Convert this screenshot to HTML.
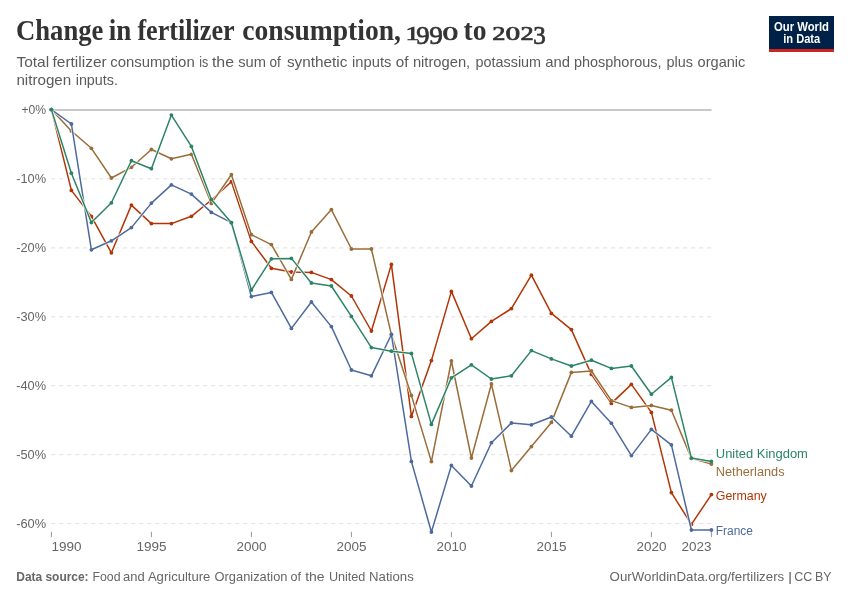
<!DOCTYPE html>
<html><head><meta charset="utf-8"><title>Change in fertilizer consumption</title>
<style>
html,body{margin:0;padding:0;background:#fff;}
body{width:850px;height:600px;overflow:hidden;font-family:"Liberation Sans",sans-serif;}
svg{display:block;will-change:transform}
text{font-family:"Liberation Sans",sans-serif;}
.tick{font-size:13.7px;fill:#666;}
.lab{font-size:12.3px;}
.title{font-family:"Liberation Serif",serif;font-weight:bold;font-size:28.6px;fill:#333;}
.sub{font-size:15px;fill:#5b5b5b;}
.foot{font-size:13px;fill:#666;}
.logo{font-size:12px;font-weight:bold;fill:#fff;}
</style></head><body>
<svg width="850" height="600" viewBox="0 0 850 600">
<rect width="850" height="600" fill="#fff"/>
<text x="16.0" y="40.2" class="title" textLength="87.4" lengthAdjust="spacingAndGlyphs">Change</text>
<text x="108.8" y="40.2" class="title" textLength="22.6" lengthAdjust="spacingAndGlyphs">in</text>
<text x="137.4" y="40.2" class="title" textLength="97.2" lengthAdjust="spacingAndGlyphs">fertilizer</text>
<text x="242.3" y="40.2" class="title" textLength="158.7" lengthAdjust="spacingAndGlyphs">consumption,</text>
<text x="405.5" y="40.2" class="title" style="font-size:19.5px;font-weight:normal;stroke:#333;stroke-width:0.7px" textLength="13.8" lengthAdjust="spacingAndGlyphs">1</text>
<text x="416.2" y="43.800000000000004" class="title" style="font-size:24.5px;font-weight:normal;stroke:#333;stroke-width:0.7px" textLength="13.3" lengthAdjust="spacingAndGlyphs">9</text>
<text x="429.3" y="43.800000000000004" class="title" style="font-size:24.5px;font-weight:normal;stroke:#333;stroke-width:0.7px" textLength="13.6" lengthAdjust="spacingAndGlyphs">9</text>
<text x="442.5" y="40.2" class="title" style="font-size:19.5px;font-weight:normal;stroke:#333;stroke-width:0.7px" textLength="15.7" lengthAdjust="spacingAndGlyphs">0</text>
<text x="463.6" y="40.2" class="title" textLength="23.0" lengthAdjust="spacingAndGlyphs">to</text>
<text x="492.2" y="40.2" class="title" style="font-size:19.5px;font-weight:normal;stroke:#333;stroke-width:0.7px" textLength="13.2" lengthAdjust="spacingAndGlyphs">2</text>
<text x="505.5" y="40.2" class="title" style="font-size:19.5px;font-weight:normal;stroke:#333;stroke-width:0.7px" textLength="14.7" lengthAdjust="spacingAndGlyphs">0</text>
<text x="520.4" y="40.2" class="title" style="font-size:19.5px;font-weight:normal;stroke:#333;stroke-width:0.7px" textLength="13.2" lengthAdjust="spacingAndGlyphs">2</text>
<text x="533.3" y="43.6" class="title" style="font-size:24.5px;font-weight:normal;stroke:#333;stroke-width:0.7px" textLength="12.5" lengthAdjust="spacingAndGlyphs">3</text>
<text x="16.4" y="66.6" class="sub" textLength="32.8" lengthAdjust="spacingAndGlyphs">Total</text>
<text x="52.5" y="66.6" class="sub" textLength="54.2" lengthAdjust="spacingAndGlyphs">fertilizer</text>
<text x="110.2" y="66.6" class="sub" textLength="84.5" lengthAdjust="spacingAndGlyphs">consumption</text>
<text x="199.3" y="66.6" class="sub" textLength="9.0" lengthAdjust="spacingAndGlyphs">is</text>
<text x="211.9" y="66.6" class="sub" textLength="22.1" lengthAdjust="spacingAndGlyphs">the</text>
<text x="238.2" y="66.6" class="sub" textLength="27.8" lengthAdjust="spacingAndGlyphs">sum</text>
<text x="269.5" y="66.6" class="sub" textLength="11.3" lengthAdjust="spacingAndGlyphs">of</text>
<text x="286.9" y="66.6" class="sub" textLength="60.4" lengthAdjust="spacingAndGlyphs">synthetic</text>
<text x="352.1" y="66.6" class="sub" textLength="39.3" lengthAdjust="spacingAndGlyphs">inputs</text>
<text x="395.8" y="66.6" class="sub" textLength="12.7" lengthAdjust="spacingAndGlyphs">of</text>
<text x="412.9" y="66.6" class="sub" textLength="57.3" lengthAdjust="spacingAndGlyphs">nitrogen,</text>
<text x="475.6" y="66.6" class="sub" textLength="65.5" lengthAdjust="spacingAndGlyphs">potassium</text>
<text x="545.3" y="66.6" class="sub" textLength="24.8" lengthAdjust="spacingAndGlyphs">and</text>
<text x="574.0" y="66.6" class="sub" textLength="87.5" lengthAdjust="spacingAndGlyphs">phosphorous,</text>
<text x="666.5" y="66.6" class="sub" textLength="26.5" lengthAdjust="spacingAndGlyphs">plus</text>
<text x="697.6" y="66.6" class="sub" textLength="47.8" lengthAdjust="spacingAndGlyphs">organic</text>
<text x="16.4" y="84.6" class="sub" textLength="54.8" lengthAdjust="spacingAndGlyphs">nitrogen</text>
<text x="75.7" y="84.6" class="sub" textLength="42.3" lengthAdjust="spacingAndGlyphs">inputs.</text>
<rect x="769" y="16" width="65" height="36" fill="#002147"/>
<rect x="769" y="49" width="65" height="3" fill="#ce261e"/>
<text x="801.5" y="30.8" class="logo" text-anchor="middle" textLength="55" lengthAdjust="spacingAndGlyphs">Our World</text>
<text x="801.7" y="42.9" class="logo" text-anchor="middle" textLength="37" lengthAdjust="spacingAndGlyphs">in Data</text>
<line x1="51" y1="110.0" x2="711.5" y2="110.0" stroke="#c8c8c8" stroke-width="2"/>
<line x1="51" y1="178.9" x2="711.5" y2="178.9" stroke="#e0e0e0" stroke-width="1" stroke-dasharray="4.2,3.8"/>
<line x1="51" y1="247.9" x2="711.5" y2="247.9" stroke="#e0e0e0" stroke-width="1" stroke-dasharray="4.2,3.8"/>
<line x1="51" y1="316.8" x2="711.5" y2="316.8" stroke="#e0e0e0" stroke-width="1" stroke-dasharray="4.2,3.8"/>
<line x1="51" y1="385.7" x2="711.5" y2="385.7" stroke="#e0e0e0" stroke-width="1" stroke-dasharray="4.2,3.8"/>
<line x1="51" y1="454.7" x2="711.5" y2="454.7" stroke="#e0e0e0" stroke-width="1" stroke-dasharray="4.2,3.8"/>
<line x1="51" y1="523.6" x2="711.5" y2="523.6" stroke="#e0e0e0" stroke-width="1" stroke-dasharray="4.2,3.8"/>
<text x="21.4" y="114.4" class="tick" textLength="24.7" lengthAdjust="spacingAndGlyphs">+0%</text>
<text x="16.2" y="183.3" class="tick" textLength="29.9" lengthAdjust="spacingAndGlyphs">-10%</text>
<text x="16.2" y="252.3" class="tick" textLength="29.9" lengthAdjust="spacingAndGlyphs">-20%</text>
<text x="16.2" y="321.2" class="tick" textLength="29.9" lengthAdjust="spacingAndGlyphs">-30%</text>
<text x="16.2" y="390.1" class="tick" textLength="29.9" lengthAdjust="spacingAndGlyphs">-40%</text>
<text x="16.2" y="459.1" class="tick" textLength="29.9" lengthAdjust="spacingAndGlyphs">-50%</text>
<text x="16.2" y="528.0" class="tick" textLength="29.9" lengthAdjust="spacingAndGlyphs">-60%</text>
<line x1="51.4" y1="531.8" x2="51.4" y2="537.2" stroke="#999" stroke-width="1"/>
<text x="51.6" y="550.7" class="tick" textLength="30" lengthAdjust="spacingAndGlyphs">1990</text>
<line x1="151.4" y1="531.8" x2="151.4" y2="537.2" stroke="#999" stroke-width="1"/>
<text x="136.4" y="550.7" class="tick" textLength="30" lengthAdjust="spacingAndGlyphs">1995</text>
<line x1="251.4" y1="531.8" x2="251.4" y2="537.2" stroke="#999" stroke-width="1"/>
<text x="236.4" y="550.7" class="tick" textLength="30" lengthAdjust="spacingAndGlyphs">2000</text>
<line x1="351.4" y1="531.8" x2="351.4" y2="537.2" stroke="#999" stroke-width="1"/>
<text x="336.4" y="550.7" class="tick" textLength="30" lengthAdjust="spacingAndGlyphs">2005</text>
<line x1="451.4" y1="531.8" x2="451.4" y2="537.2" stroke="#999" stroke-width="1"/>
<text x="436.4" y="550.7" class="tick" textLength="30" lengthAdjust="spacingAndGlyphs">2010</text>
<line x1="551.4" y1="531.8" x2="551.4" y2="537.2" stroke="#999" stroke-width="1"/>
<text x="536.4" y="550.7" class="tick" textLength="30" lengthAdjust="spacingAndGlyphs">2015</text>
<line x1="651.4" y1="531.8" x2="651.4" y2="537.2" stroke="#999" stroke-width="1"/>
<text x="636.4" y="550.7" class="tick" textLength="30" lengthAdjust="spacingAndGlyphs">2020</text>
<line x1="711.4" y1="531.8" x2="711.4" y2="537.2" stroke="#999" stroke-width="1"/>
<text x="681.4" y="550.7" class="tick" textLength="30" lengthAdjust="spacingAndGlyphs">2023</text>
<path d="M51.4,109.6 L71.4,190.4 L91.4,216.4 L111.4,252.8 L131.4,205.1 L151.4,223.6 L171.4,223.6 L191.4,216.3 L211.4,200.0 L231.4,181.7 L251.4,241.4 L271.4,268.3 L291.4,272.0 L311.4,272.4 L331.4,279.6 L351.4,296.0 L371.4,331.0 L391.4,264.4 L411.4,416.4 L431.4,360.6 L451.4,291.4 L471.4,338.7 L491.4,321.4 L511.4,308.6 L531.4,275.2 L551.4,313.4 L571.4,329.6 L591.4,374.4 L611.4,403.4 L631.4,384.4 L651.4,412.4 L671.4,492.6 L691.4,524.4 L711.4,494.6" fill="none" stroke="#fff" stroke-width="3" stroke-linejoin="round" stroke-linecap="round" opacity="0.85"/>
<path d="M51.4,109.6 L71.4,190.4 L91.4,216.4 L111.4,252.8 L131.4,205.1 L151.4,223.6 L171.4,223.6 L191.4,216.3 L211.4,200.0 L231.4,181.7 L251.4,241.4 L271.4,268.3 L291.4,272.0 L311.4,272.4 L331.4,279.6 L351.4,296.0 L371.4,331.0 L391.4,264.4 L411.4,416.4 L431.4,360.6 L451.4,291.4 L471.4,338.7 L491.4,321.4 L511.4,308.6 L531.4,275.2 L551.4,313.4 L571.4,329.6 L591.4,374.4 L611.4,403.4 L631.4,384.4 L651.4,412.4 L671.4,492.6 L691.4,524.4 L711.4,494.6" fill="none" stroke="#b13507" stroke-width="1.5" stroke-linejoin="round" stroke-linecap="round"/>
<circle cx="51.4" cy="109.6" r="1.9" fill="#b13507"/>
<circle cx="71.4" cy="190.4" r="1.9" fill="#b13507"/>
<circle cx="91.4" cy="216.4" r="1.9" fill="#b13507"/>
<circle cx="111.4" cy="252.8" r="1.9" fill="#b13507"/>
<circle cx="131.4" cy="205.1" r="1.9" fill="#b13507"/>
<circle cx="151.4" cy="223.6" r="1.9" fill="#b13507"/>
<circle cx="171.4" cy="223.6" r="1.9" fill="#b13507"/>
<circle cx="191.4" cy="216.3" r="1.9" fill="#b13507"/>
<circle cx="211.4" cy="200.0" r="1.9" fill="#b13507"/>
<circle cx="231.4" cy="181.7" r="1.9" fill="#b13507"/>
<circle cx="251.4" cy="241.4" r="1.9" fill="#b13507"/>
<circle cx="271.4" cy="268.3" r="1.9" fill="#b13507"/>
<circle cx="291.4" cy="272.0" r="1.9" fill="#b13507"/>
<circle cx="311.4" cy="272.4" r="1.9" fill="#b13507"/>
<circle cx="331.4" cy="279.6" r="1.9" fill="#b13507"/>
<circle cx="351.4" cy="296.0" r="1.9" fill="#b13507"/>
<circle cx="371.4" cy="331.0" r="1.9" fill="#b13507"/>
<circle cx="391.4" cy="264.4" r="1.9" fill="#b13507"/>
<circle cx="411.4" cy="416.4" r="1.9" fill="#b13507"/>
<circle cx="431.4" cy="360.6" r="1.9" fill="#b13507"/>
<circle cx="451.4" cy="291.4" r="1.9" fill="#b13507"/>
<circle cx="471.4" cy="338.7" r="1.9" fill="#b13507"/>
<circle cx="491.4" cy="321.4" r="1.9" fill="#b13507"/>
<circle cx="511.4" cy="308.6" r="1.9" fill="#b13507"/>
<circle cx="531.4" cy="275.2" r="1.9" fill="#b13507"/>
<circle cx="551.4" cy="313.4" r="1.9" fill="#b13507"/>
<circle cx="571.4" cy="329.6" r="1.9" fill="#b13507"/>
<circle cx="591.4" cy="374.4" r="1.9" fill="#b13507"/>
<circle cx="611.4" cy="403.4" r="1.9" fill="#b13507"/>
<circle cx="631.4" cy="384.4" r="1.9" fill="#b13507"/>
<circle cx="651.4" cy="412.4" r="1.9" fill="#b13507"/>
<circle cx="671.4" cy="492.6" r="1.9" fill="#b13507"/>
<circle cx="691.4" cy="524.4" r="1.9" fill="#b13507"/>
<circle cx="711.4" cy="494.6" r="1.9" fill="#b13507"/>
<path d="M51.4,109.6 L71.4,131.0 L91.4,148.3 L111.4,178.0 L131.4,167.3 L151.4,149.5 L171.4,158.8 L191.4,154.3 L211.4,203.4 L231.4,174.7 L251.4,234.7 L271.4,244.6 L291.4,279.4 L311.4,232.0 L331.4,209.6 L351.4,249.0 L371.4,249.0 L391.4,334.6 L411.4,395.4 L431.4,461.6 L451.4,361.0 L471.4,458.0 L491.4,384.0 L511.4,470.6 L531.4,446.6 L551.4,422.4 L571.4,372.4 L591.4,371.0 L611.4,400.6 L631.4,407.4 L651.4,405.4 L671.4,410.2 L691.4,458.4 L711.4,464.0" fill="none" stroke="#fff" stroke-width="3" stroke-linejoin="round" stroke-linecap="round" opacity="0.85"/>
<path d="M51.4,109.6 L71.4,131.0 L91.4,148.3 L111.4,178.0 L131.4,167.3 L151.4,149.5 L171.4,158.8 L191.4,154.3 L211.4,203.4 L231.4,174.7 L251.4,234.7 L271.4,244.6 L291.4,279.4 L311.4,232.0 L331.4,209.6 L351.4,249.0 L371.4,249.0 L391.4,334.6 L411.4,395.4 L431.4,461.6 L451.4,361.0 L471.4,458.0 L491.4,384.0 L511.4,470.6 L531.4,446.6 L551.4,422.4 L571.4,372.4 L591.4,371.0 L611.4,400.6 L631.4,407.4 L651.4,405.4 L671.4,410.2 L691.4,458.4 L711.4,464.0" fill="none" stroke="#996d39" stroke-width="1.5" stroke-linejoin="round" stroke-linecap="round"/>
<circle cx="51.4" cy="109.6" r="1.9" fill="#996d39"/>
<circle cx="71.4" cy="131.0" r="1.9" fill="#996d39"/>
<circle cx="91.4" cy="148.3" r="1.9" fill="#996d39"/>
<circle cx="111.4" cy="178.0" r="1.9" fill="#996d39"/>
<circle cx="131.4" cy="167.3" r="1.9" fill="#996d39"/>
<circle cx="151.4" cy="149.5" r="1.9" fill="#996d39"/>
<circle cx="171.4" cy="158.8" r="1.9" fill="#996d39"/>
<circle cx="191.4" cy="154.3" r="1.9" fill="#996d39"/>
<circle cx="211.4" cy="203.4" r="1.9" fill="#996d39"/>
<circle cx="231.4" cy="174.7" r="1.9" fill="#996d39"/>
<circle cx="251.4" cy="234.7" r="1.9" fill="#996d39"/>
<circle cx="271.4" cy="244.6" r="1.9" fill="#996d39"/>
<circle cx="291.4" cy="279.4" r="1.9" fill="#996d39"/>
<circle cx="311.4" cy="232.0" r="1.9" fill="#996d39"/>
<circle cx="331.4" cy="209.6" r="1.9" fill="#996d39"/>
<circle cx="351.4" cy="249.0" r="1.9" fill="#996d39"/>
<circle cx="371.4" cy="249.0" r="1.9" fill="#996d39"/>
<circle cx="391.4" cy="334.6" r="1.9" fill="#996d39"/>
<circle cx="411.4" cy="395.4" r="1.9" fill="#996d39"/>
<circle cx="431.4" cy="461.6" r="1.9" fill="#996d39"/>
<circle cx="451.4" cy="361.0" r="1.9" fill="#996d39"/>
<circle cx="471.4" cy="458.0" r="1.9" fill="#996d39"/>
<circle cx="491.4" cy="384.0" r="1.9" fill="#996d39"/>
<circle cx="511.4" cy="470.6" r="1.9" fill="#996d39"/>
<circle cx="531.4" cy="446.6" r="1.9" fill="#996d39"/>
<circle cx="551.4" cy="422.4" r="1.9" fill="#996d39"/>
<circle cx="571.4" cy="372.4" r="1.9" fill="#996d39"/>
<circle cx="591.4" cy="371.0" r="1.9" fill="#996d39"/>
<circle cx="611.4" cy="400.6" r="1.9" fill="#996d39"/>
<circle cx="631.4" cy="407.4" r="1.9" fill="#996d39"/>
<circle cx="651.4" cy="405.4" r="1.9" fill="#996d39"/>
<circle cx="671.4" cy="410.2" r="1.9" fill="#996d39"/>
<circle cx="691.4" cy="458.4" r="1.9" fill="#996d39"/>
<circle cx="711.4" cy="464.0" r="1.9" fill="#996d39"/>
<path d="M51.4,109.6 L71.4,124.0 L91.4,249.8 L111.4,240.8 L131.4,227.6 L151.4,203.1 L171.4,184.9 L191.4,194.1 L211.4,212.4 L231.4,222.7 L251.4,296.6 L271.4,292.4 L291.4,328.4 L311.4,302.0 L331.4,326.6 L351.4,370.0 L371.4,375.8 L391.4,334.5 L411.4,461.4 L431.4,532.0 L451.4,465.4 L471.4,486.0 L491.4,442.7 L511.4,423.0 L531.4,424.8 L551.4,417.0 L571.4,436.2 L591.4,401.4 L611.4,423.2 L631.4,455.6 L651.4,429.4 L671.4,444.8 L691.4,530.0 L711.4,530.0" fill="none" stroke="#fff" stroke-width="3" stroke-linejoin="round" stroke-linecap="round" opacity="0.85"/>
<path d="M51.4,109.6 L71.4,124.0 L91.4,249.8 L111.4,240.8 L131.4,227.6 L151.4,203.1 L171.4,184.9 L191.4,194.1 L211.4,212.4 L231.4,222.7 L251.4,296.6 L271.4,292.4 L291.4,328.4 L311.4,302.0 L331.4,326.6 L351.4,370.0 L371.4,375.8 L391.4,334.5 L411.4,461.4 L431.4,532.0 L451.4,465.4 L471.4,486.0 L491.4,442.7 L511.4,423.0 L531.4,424.8 L551.4,417.0 L571.4,436.2 L591.4,401.4 L611.4,423.2 L631.4,455.6 L651.4,429.4 L671.4,444.8 L691.4,530.0 L711.4,530.0" fill="none" stroke="#4c6a9c" stroke-width="1.5" stroke-linejoin="round" stroke-linecap="round"/>
<circle cx="51.4" cy="109.6" r="1.9" fill="#4c6a9c"/>
<circle cx="71.4" cy="124.0" r="1.9" fill="#4c6a9c"/>
<circle cx="91.4" cy="249.8" r="1.9" fill="#4c6a9c"/>
<circle cx="111.4" cy="240.8" r="1.9" fill="#4c6a9c"/>
<circle cx="131.4" cy="227.6" r="1.9" fill="#4c6a9c"/>
<circle cx="151.4" cy="203.1" r="1.9" fill="#4c6a9c"/>
<circle cx="171.4" cy="184.9" r="1.9" fill="#4c6a9c"/>
<circle cx="191.4" cy="194.1" r="1.9" fill="#4c6a9c"/>
<circle cx="211.4" cy="212.4" r="1.9" fill="#4c6a9c"/>
<circle cx="231.4" cy="222.7" r="1.9" fill="#4c6a9c"/>
<circle cx="251.4" cy="296.6" r="1.9" fill="#4c6a9c"/>
<circle cx="271.4" cy="292.4" r="1.9" fill="#4c6a9c"/>
<circle cx="291.4" cy="328.4" r="1.9" fill="#4c6a9c"/>
<circle cx="311.4" cy="302.0" r="1.9" fill="#4c6a9c"/>
<circle cx="331.4" cy="326.6" r="1.9" fill="#4c6a9c"/>
<circle cx="351.4" cy="370.0" r="1.9" fill="#4c6a9c"/>
<circle cx="371.4" cy="375.8" r="1.9" fill="#4c6a9c"/>
<circle cx="391.4" cy="334.5" r="1.9" fill="#4c6a9c"/>
<circle cx="411.4" cy="461.4" r="1.9" fill="#4c6a9c"/>
<circle cx="431.4" cy="532.0" r="1.9" fill="#4c6a9c"/>
<circle cx="451.4" cy="465.4" r="1.9" fill="#4c6a9c"/>
<circle cx="471.4" cy="486.0" r="1.9" fill="#4c6a9c"/>
<circle cx="491.4" cy="442.7" r="1.9" fill="#4c6a9c"/>
<circle cx="511.4" cy="423.0" r="1.9" fill="#4c6a9c"/>
<circle cx="531.4" cy="424.8" r="1.9" fill="#4c6a9c"/>
<circle cx="551.4" cy="417.0" r="1.9" fill="#4c6a9c"/>
<circle cx="571.4" cy="436.2" r="1.9" fill="#4c6a9c"/>
<circle cx="591.4" cy="401.4" r="1.9" fill="#4c6a9c"/>
<circle cx="611.4" cy="423.2" r="1.9" fill="#4c6a9c"/>
<circle cx="631.4" cy="455.6" r="1.9" fill="#4c6a9c"/>
<circle cx="651.4" cy="429.4" r="1.9" fill="#4c6a9c"/>
<circle cx="671.4" cy="444.8" r="1.9" fill="#4c6a9c"/>
<circle cx="691.4" cy="530.0" r="1.9" fill="#4c6a9c"/>
<circle cx="711.4" cy="530.0" r="1.9" fill="#4c6a9c"/>
<path d="M51.4,109.6 L71.4,173.2 L91.4,222.5 L111.4,202.8 L131.4,160.7 L151.4,168.7 L171.4,115.1 L191.4,146.4 L211.4,199.4 L231.4,222.7 L251.4,290.0 L271.4,258.8 L291.4,258.4 L311.4,283.0 L331.4,286.0 L351.4,316.4 L371.4,347.6 L391.4,351.2 L411.4,353.4 L431.4,424.4 L451.4,377.8 L471.4,364.8 L491.4,379.0 L511.4,375.8 L531.4,350.6 L551.4,358.9 L571.4,366.0 L591.4,360.2 L611.4,368.4 L631.4,366.0 L651.4,394.2 L671.4,377.4 L691.4,458.1 L711.4,461.4" fill="none" stroke="#fff" stroke-width="3" stroke-linejoin="round" stroke-linecap="round" opacity="0.85"/>
<path d="M51.4,109.6 L71.4,173.2 L91.4,222.5 L111.4,202.8 L131.4,160.7 L151.4,168.7 L171.4,115.1 L191.4,146.4 L211.4,199.4 L231.4,222.7 L251.4,290.0 L271.4,258.8 L291.4,258.4 L311.4,283.0 L331.4,286.0 L351.4,316.4 L371.4,347.6 L391.4,351.2 L411.4,353.4 L431.4,424.4 L451.4,377.8 L471.4,364.8 L491.4,379.0 L511.4,375.8 L531.4,350.6 L551.4,358.9 L571.4,366.0 L591.4,360.2 L611.4,368.4 L631.4,366.0 L651.4,394.2 L671.4,377.4 L691.4,458.1 L711.4,461.4" fill="none" stroke="#2c8465" stroke-width="1.5" stroke-linejoin="round" stroke-linecap="round"/>
<circle cx="51.4" cy="109.6" r="1.9" fill="#2c8465"/>
<circle cx="71.4" cy="173.2" r="1.9" fill="#2c8465"/>
<circle cx="91.4" cy="222.5" r="1.9" fill="#2c8465"/>
<circle cx="111.4" cy="202.8" r="1.9" fill="#2c8465"/>
<circle cx="131.4" cy="160.7" r="1.9" fill="#2c8465"/>
<circle cx="151.4" cy="168.7" r="1.9" fill="#2c8465"/>
<circle cx="171.4" cy="115.1" r="1.9" fill="#2c8465"/>
<circle cx="191.4" cy="146.4" r="1.9" fill="#2c8465"/>
<circle cx="211.4" cy="199.4" r="1.9" fill="#2c8465"/>
<circle cx="231.4" cy="222.7" r="1.9" fill="#2c8465"/>
<circle cx="251.4" cy="290.0" r="1.9" fill="#2c8465"/>
<circle cx="271.4" cy="258.8" r="1.9" fill="#2c8465"/>
<circle cx="291.4" cy="258.4" r="1.9" fill="#2c8465"/>
<circle cx="311.4" cy="283.0" r="1.9" fill="#2c8465"/>
<circle cx="331.4" cy="286.0" r="1.9" fill="#2c8465"/>
<circle cx="351.4" cy="316.4" r="1.9" fill="#2c8465"/>
<circle cx="371.4" cy="347.6" r="1.9" fill="#2c8465"/>
<circle cx="391.4" cy="351.2" r="1.9" fill="#2c8465"/>
<circle cx="411.4" cy="353.4" r="1.9" fill="#2c8465"/>
<circle cx="431.4" cy="424.4" r="1.9" fill="#2c8465"/>
<circle cx="451.4" cy="377.8" r="1.9" fill="#2c8465"/>
<circle cx="471.4" cy="364.8" r="1.9" fill="#2c8465"/>
<circle cx="491.4" cy="379.0" r="1.9" fill="#2c8465"/>
<circle cx="511.4" cy="375.8" r="1.9" fill="#2c8465"/>
<circle cx="531.4" cy="350.6" r="1.9" fill="#2c8465"/>
<circle cx="551.4" cy="358.9" r="1.9" fill="#2c8465"/>
<circle cx="571.4" cy="366.0" r="1.9" fill="#2c8465"/>
<circle cx="591.4" cy="360.2" r="1.9" fill="#2c8465"/>
<circle cx="611.4" cy="368.4" r="1.9" fill="#2c8465"/>
<circle cx="631.4" cy="366.0" r="1.9" fill="#2c8465"/>
<circle cx="651.4" cy="394.2" r="1.9" fill="#2c8465"/>
<circle cx="671.4" cy="377.4" r="1.9" fill="#2c8465"/>
<circle cx="691.4" cy="458.1" r="1.9" fill="#2c8465"/>
<circle cx="711.4" cy="461.4" r="1.9" fill="#2c8465"/>
<text x="715.8" y="457.8" class="lab" fill="#2c8465" textLength="92.1" lengthAdjust="spacingAndGlyphs">United Kingdom</text>
<text x="715.8" y="476.3" class="lab" fill="#996d39" textLength="68.8" lengthAdjust="spacingAndGlyphs">Netherlands</text>
<text x="715.8" y="499.5" class="lab" fill="#b13507" textLength="51" lengthAdjust="spacingAndGlyphs">Germany</text>
<text x="715.8" y="534.7" class="lab" fill="#4c6a9c" textLength="37.1" lengthAdjust="spacingAndGlyphs">France</text>
<text x="16.3" y="580.9" class="foot" font-weight="bold" textLength="72.3" lengthAdjust="spacingAndGlyphs">Data source:</text>
<text x="92.5" y="580.9" class="foot" textLength="28.0" lengthAdjust="spacingAndGlyphs">Food</text>
<text x="123.1" y="580.9" class="foot" textLength="21.6" lengthAdjust="spacingAndGlyphs">and</text>
<text x="147.9" y="580.9" class="foot" textLength="62.5" lengthAdjust="spacingAndGlyphs">Agriculture</text>
<text x="214.6" y="580.9" class="foot" textLength="72.9" lengthAdjust="spacingAndGlyphs">Organization</text>
<text x="290.4" y="580.9" class="foot" textLength="10.5" lengthAdjust="spacingAndGlyphs">of</text>
<text x="305.2" y="580.9" class="foot" textLength="19.4" lengthAdjust="spacingAndGlyphs">the</text>
<text x="328.9" y="580.9" class="foot" textLength="36.5" lengthAdjust="spacingAndGlyphs">United</text>
<text x="369.1" y="580.9" class="foot" textLength="44.7" lengthAdjust="spacingAndGlyphs">Nations</text>
<text x="609.6" y="580.9" class="foot" textLength="174.6" lengthAdjust="spacingAndGlyphs">OurWorldinData.org/fertilizers</text>
<text x="787.9" y="580.9" class="foot" textLength="4.2" lengthAdjust="spacingAndGlyphs">|</text>
<text x="794.2" y="580.9" class="foot" textLength="18.1" lengthAdjust="spacingAndGlyphs">CC</text>
<text x="815.1" y="580.9" class="foot" textLength="16.5" lengthAdjust="spacingAndGlyphs">BY</text>
</svg>
</body></html>
